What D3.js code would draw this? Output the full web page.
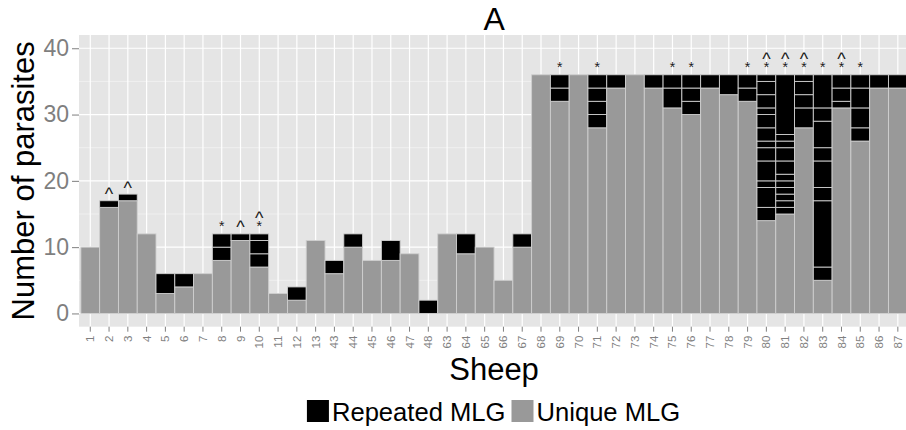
<!DOCTYPE html>
<html>
<head>
<meta charset="utf-8">
<script src="https://cdn.jsdelivr.net/npm/d3@7"></script>
<style>
  body { margin: 0; background: #fff; }
  text { font-family: "Liberation Sans", Arial, sans-serif; }
</style>
</head>
<body>
<svg id="chart"></svg>
<script>
// sheep ids along the x axis
const sheep = ["1","2","3","4","5","6","7","8","9","10","11","12","13","43","44","45","46","47","48",
  "63","64","65","66","67","68","69","70","71","72","73","74","75","76","77","78","79","80","81","82",
  "83","84","85","86","87"];

// parasites with a unique MLG (grey block at the bottom)
const uniqueMLG = [10,16,17,12,3,4,6,8,11,7,3,2,11,6,10,8,8,9,0,
  12,9,10,5,10,36,32,36,28,34,36,34,31,30,34,33,32,14,15,28,
  5,31,26,34,34];

// repeated MLG groups, stacked bottom to top above the unique block
const repeatedMLG = [[],[1],[1],[],[3],[2],[],[2,2],[1],[2,2,1],[],[2],[],[2],[2],[],[3],[],[2],
  [],[3],[],[],[2],[],[2,2],[],[2,2,2,2],[2],[],[2],[3,2],[2,2,2],[2],[3],[2,2],
  [2,3,1,3,2,1,2,2,1,2,2,1],[1,1,1,1,1,1,2,2,1,1,9],[3,2,2,1],
  [2,10,2,4,2,4,2,5],[1,2,2],[2,3,3,2],[2],[2]];

// sheep flagged with a star and with a caret
const starSheep = ["8","10","69","71","75","76","79","80","81","82","83","84","85"];
const caretSheep = ["2","3","9","10","80","81","82","84"];

const yTicks = [0, 10, 20, 30, 40];
const yMinor = [5, 15, 25, 35];
const legendItems = [
  { label: "Repeated MLG", color: "#000000" },
  { label: "Unique MLG", color: "#999999" }
];

const W = 906, H = 430;
const panel = { left: 79, right: 909.1, top: 35, bottom: 326.7 };

const svg = d3.select("#chart").attr("width", W).attr("height", H);

const x = d3.scaleBand().domain(sheep).range([panel.left, panel.right])
  .paddingInner(0).paddingOuter(0.1);
const y = d3.scaleLinear().domain([-2, 42]).range([panel.bottom, panel.top]);

// panel background + grid
svg.append("rect").attr("x", panel.left).attr("y", panel.top)
  .attr("width", panel.right - panel.left).attr("height", panel.bottom - panel.top)
  .attr("fill", "#e5e5e5");

const grid = svg.append("g");
grid.selectAll(".minor").data(yMinor).enter().append("line")
  .attr("x1", panel.left).attr("x2", panel.right)
  .attr("y1", d => y(d)).attr("y2", d => y(d))
  .attr("stroke", "#f2f2f2").attr("stroke-width", 0.8);
grid.selectAll(".major").data(yTicks).enter().append("line")
  .attr("x1", panel.left).attr("x2", panel.right)
  .attr("y1", d => y(d)).attr("y2", d => y(d))
  .attr("stroke", "#ffffff").attr("stroke-width", 1.2);
grid.selectAll(".vmajor").data(sheep).enter().append("line")
  .attr("x1", d => x(d) + x.bandwidth() / 2).attr("x2", d => x(d) + x.bandwidth() / 2)
  .attr("y1", panel.top).attr("y2", panel.bottom)
  .attr("stroke", "#ffffff").attr("stroke-width", 1.2);

// build stacked segments
const segments = [];
const totals = {};
sheep.forEach((s, i) => {
  let base = 0;
  if (uniqueMLG[i] > 0) {
    segments.push({ sheep: s, y0: 0, y1: uniqueMLG[i], type: "unique" });
    base = uniqueMLG[i];
  }
  repeatedMLG[i].forEach(n => {
    segments.push({ sheep: s, y0: base, y1: base + n, type: "repeated" });
    base += n;
  });
  totals[s] = base;
});

svg.append("g").selectAll("rect").data(segments).enter().append("rect")
  .attr("x", d => x(d.sheep))
  .attr("y", d => y(d.y1))
  .attr("width", x.bandwidth())
  .attr("height", d => y(d.y0) - y(d.y1))
  .attr("fill", d => d.type === "unique" ? "#999999" : "#000000")
  .attr("stroke", "#cfcfcf").attr("stroke-width", 0.9);

// markers above the bars
const marks = svg.append("g").attr("fill", "#1a1a1a").attr("text-anchor", "middle");
marks.selectAll(".star").data(starSheep).enter().append("text")
  .attr("x", d => x(d) + x.bandwidth() / 2)
  .attr("y", d => y(totals[d] + 1.6) + 8)
  .attr("font-size", 14).text("*");
marks.selectAll(".caret").data(caretSheep).enter().append("text")
  .attr("x", d => x(d) + x.bandwidth() / 2)
  .attr("y", d => y(totals[d] + (starSheep.includes(d) ? 2.85 : 1.5)) + 9.5)
  .attr("font-size", 18).text("^");

// y axis
const yAxis = svg.append("g").attr("transform", `translate(${panel.left},0)`)
  .call(d3.axisLeft(y).tickValues(yTicks).tickSize(7).tickPadding(3));
yAxis.select(".domain").remove();
yAxis.selectAll("line").attr("stroke", "#7f7f7f");
yAxis.selectAll("text").attr("fill", "#7f7f7f").attr("font-size", 23)
  .attr("font-family", "Liberation Sans, Arial, sans-serif");

// x axis
const xAxis = svg.append("g").attr("transform", `translate(0,${panel.bottom})`)
  .call(d3.axisBottom(x).tickSize(5).tickPadding(4));
xAxis.select(".domain").remove();
xAxis.selectAll("line").attr("stroke", "#7f7f7f");
xAxis.selectAll("text").attr("fill", "#7f7f7f").attr("font-size", 11.5)
  .attr("font-family", "Liberation Sans, Arial, sans-serif")
  .attr("transform", "rotate(-90)")
  .attr("text-anchor", "end")
  .attr("dy", "0.35em")
  .attr("x", -9).attr("y", 0);

const cx = (panel.left + panel.right) / 2;

// title and axis titles
svg.append("text").attr("x", cx).attr("y", 30).attr("text-anchor", "middle")
  .attr("font-size", 32).text("A");
svg.append("text").attr("x", cx).attr("y", 380).attr("text-anchor", "middle")
  .attr("font-size", 31).text("Sheep");
svg.append("text").attr("transform", `translate(34,${(panel.top + panel.bottom) / 2}) rotate(-90)`)
  .attr("text-anchor", "middle").attr("font-size", 31).text("Number of parasites");

// legend
const legend = svg.append("g");
let lx = 0;
legendItems.forEach((it, i) => {
  legend.append("rect").attr("x", lx).attr("y", 400).attr("width", 22).attr("height", 22)
    .attr("fill", it.color);
  const t = legend.append("text").attr("x", lx + 25).attr("y", 421)
    .attr("font-size", 25.6).text(it.label);
  lx += 25 + t.node().getComputedTextLength() + 6;
});
const lw = lx - 6;
legend.attr("transform", `translate(${cx - lw / 2 - 0.5},0)`);
</script>
</body>
</html>
